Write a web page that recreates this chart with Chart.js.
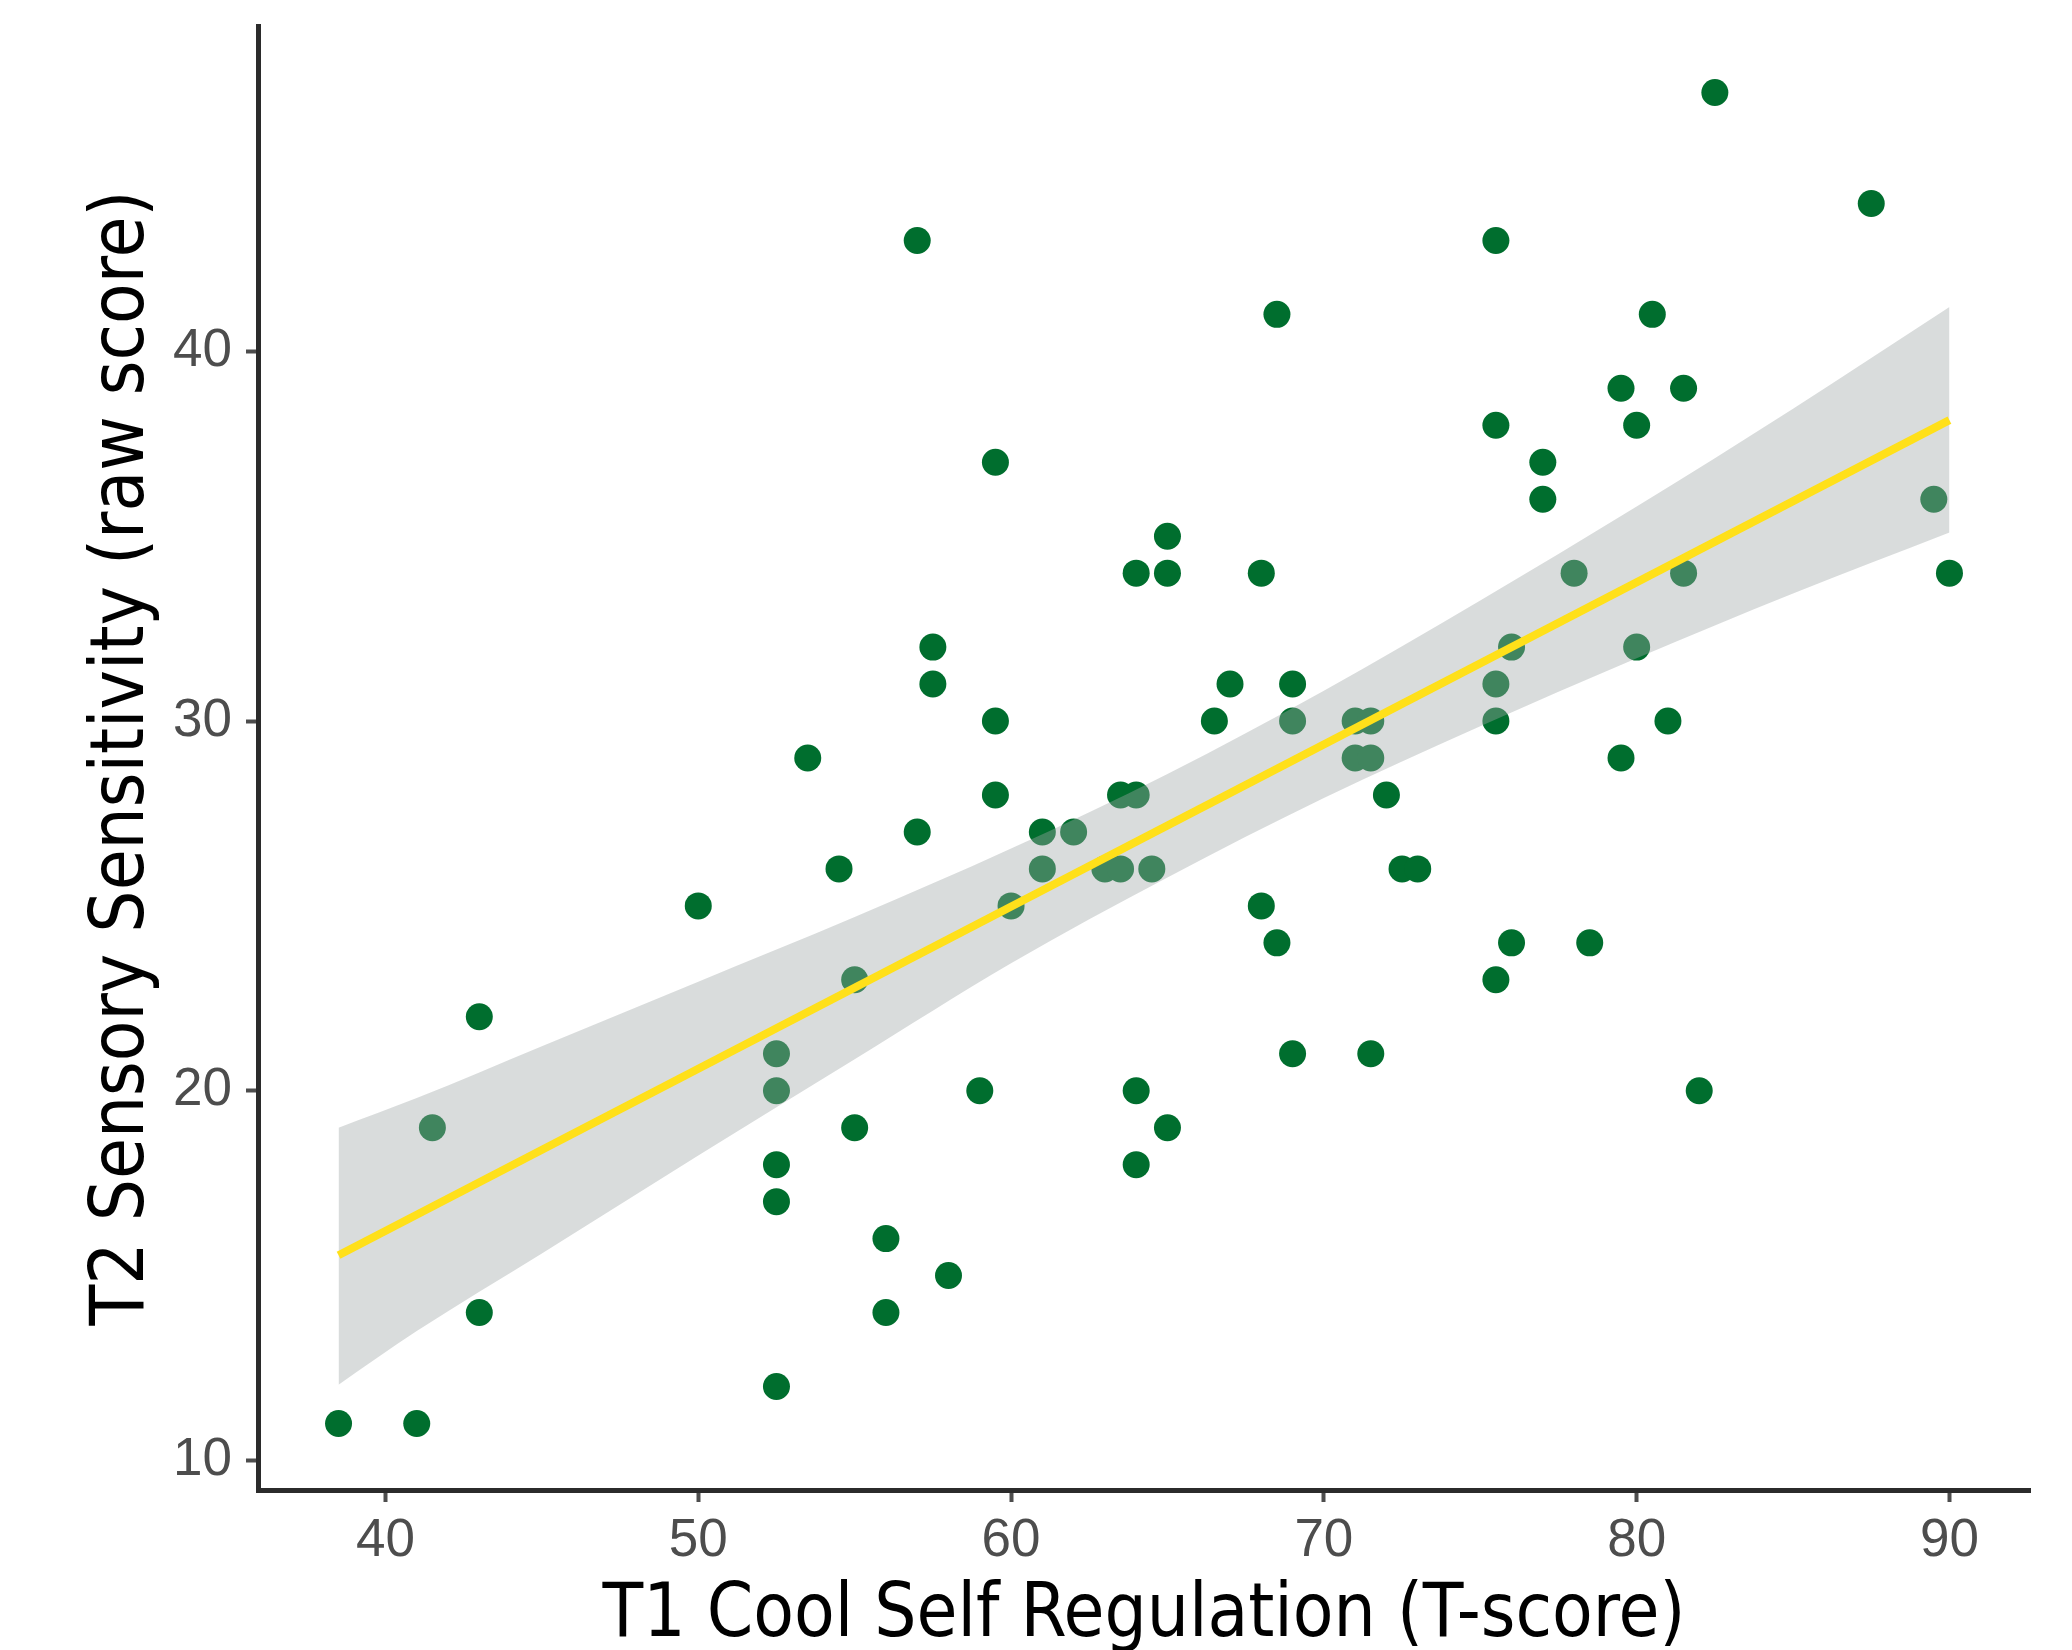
<!DOCTYPE html>
<html>
<head>
<meta charset="utf-8">
<script src="https://cdn.jsdelivr.net/npm/chart.js@4.4.1/dist/chart.umd.min.js"></script>
<style>
  html, body { margin: 0; padding: 0; background: #ffffff; }
  #wrap { width: 2072px; height: 1650px; }
</style>
</head>
<body>
<div id="wrap"><canvas id="c" width="2072" height="1650"></canvas></div>
<script>
// ---- data ----
const xTitle = "T1 Cool Self Regulation (T-score)";
const yTitle = "T2 Sensory Sensitivity (raw score)";

const xTickValues = [40, 50, 60, 70, 80, 90];
const yTickValues = [10, 20, 30, 40];

const coolSR = [38.5, 41, 41.5, 43, 43, 50, 52.5, 52.5, 52.5, 52.5, 52.5, 53.5, 54.5, 55, 55, 56, 56, 57, 57, 57.5,
  57.5, 58, 59, 59.5, 59.5, 59.5, 60, 61, 61, 62, 63, 63.5, 63.5, 64, 64, 64, 64, 64.5, 65, 65,
  65, 66.5, 67, 68, 68, 68.5, 68.5, 69, 69, 69, 71, 71, 71.5, 71.5, 71.5, 72, 72.5, 73, 75.5, 75.5,
  75.5, 75.5, 75.5, 76, 76, 77, 77, 78, 78.5, 79.5, 79.5, 80, 80, 80.5, 81, 81.5, 81.5, 82, 82.5, 87.5,
  89.5, 90];
const sensory = [11, 11, 19, 22, 14, 25, 21, 20, 18, 17, 12, 29, 26, 23, 19, 16, 14, 43, 27, 32,
  31, 15, 20, 37, 30, 28, 25, 27, 26, 27, 26, 26, 28, 28, 34, 20, 18, 26, 35, 34,
  19, 30, 31, 34, 25, 41, 24, 31, 30, 21, 30, 29, 30, 29, 21, 28, 26, 26, 43, 38,
  31, 30, 23, 32, 24, 37, 36, 34, 24, 39, 29, 38, 32, 41, 30, 39, 34, 20, 47, 44,
  36, 34];

// fitted line end points and confidence band edges
const fitX = [38.5, 90];
const fitY = [15.55, 38.14];
const bandX     = [38.5, 41, 45, 50, 55, 60, 65, 70, 75, 80, 85, 90];
const bandUpper = [19.0, 19.8, 21.2, 22.95, 24.7, 26.55, 28.57, 30.82, 33.26, 35.8, 38.45, 41.2];
const bandLower = [12.05, 13.5, 15.6, 18.25, 20.85, 23.45, 25.77, 27.92, 29.86, 31.7, 33.45, 35.1];

const xMin = 35.925, xMax = 92.575;
const yMin = 9.2, yMax = 48.8;

// ---- build chart ----
const pts = coolSR.map((x, i) => ({ x: x, y: sensory[i] }));
const fitPts = fitX.map((x, i) => ({ x: x, y: fitY[i] }));
const upPts = bandX.map((x, i) => ({ x: x, y: bandUpper[i] }));
const loPts = bandX.map((x, i) => ({ x: x, y: bandLower[i] }));

const tickFont = { family: "'Liberation Sans', Arial, sans-serif", size: 53, lineHeight: 1 };
const titleFont = { family: "'Liberation Sans Narrow', 'DejaVu Sans Condensed', sans-serif", size: 74, lineHeight: 0.9 };

new Chart(document.getElementById('c'), {
  type: 'line',
  data: {
    datasets: [
      { label: 'fit', data: fitPts, showLine: true, borderColor: '#ffe01a', borderWidth: 8,
        pointRadius: 0, fill: false, order: 1, borderCapStyle: 'butt' },
      { label: 'upper', data: upPts, showLine: true, borderColor: 'rgba(0,0,0,0)', borderWidth: 0,
        pointRadius: 0, fill: '+1', backgroundColor: 'rgba(160,168,168,0.4)',
        cubicInterpolationMode: 'monotone', order: 2 },
      { label: 'lower', data: loPts, showLine: true, borderColor: 'rgba(0,0,0,0)', borderWidth: 0,
        pointRadius: 0, fill: false, cubicInterpolationMode: 'monotone', order: 2 },
      { label: 'points', data: pts, showLine: false, pointRadius: 13.5, pointHoverRadius: 13.5,
        pointBackgroundColor: '#006e2e', pointBorderWidth: 0, borderColor: '#006e2e', order: 3 }
    ]
  },
  options: {
    responsive: false,
    animation: false,
    devicePixelRatio: 1,
    events: [],
    layout: { padding: { top: 26, right: 42, left: 0, bottom: 0 } },
    plugins: { legend: { display: false }, tooltip: { enabled: false } },
    scales: {
      x: {
        type: 'linear', position: 'bottom', min: xMin, max: xMax,
        afterBuildTicks: s => { s.ticks = xTickValues.map(v => ({ value: v })); },
        afterFit: s => { s.height = 160; s.paddingLeft = 0; s.paddingRight = 0; },
        grid: { display: true, drawOnChartArea: false, drawTicks: true, tickLength: 12, tickWidth: 4, tickColor: '#4d4d4d' },
        border: { display: true, color: '#2b2b2b', width: 5 },
        ticks: { color: '#4d4d4d', font: tickFont, padding: 13, maxRotation: 0, autoSkip: false },
        title: { display: true, text: xTitle, color: '#000000', font: titleFont, padding: { top: 0, bottom: 0 } }
      },
      y: {
        type: 'linear', position: 'left', min: yMin, max: yMax,
        afterBuildTicks: s => { s.ticks = yTickValues.map(v => ({ value: v })); },
        afterFit: s => { s.width = 258; s.paddingTop = 0; s.paddingBottom = 0; },
        grid: { display: true, drawOnChartArea: false, drawTicks: true, tickLength: 12, tickWidth: 4, tickColor: '#4d4d4d' },
        border: { display: true, color: '#2b2b2b', width: 5 },
        ticks: { color: '#4d4d4d', font: tickFont, padding: 14, autoSkip: false },
        title: { display: true, text: yTitle, color: '#000000', font: titleFont, padding: { top: 90, bottom: 0 } }
      }
    }
  }
});
</script>
</body>
</html>
